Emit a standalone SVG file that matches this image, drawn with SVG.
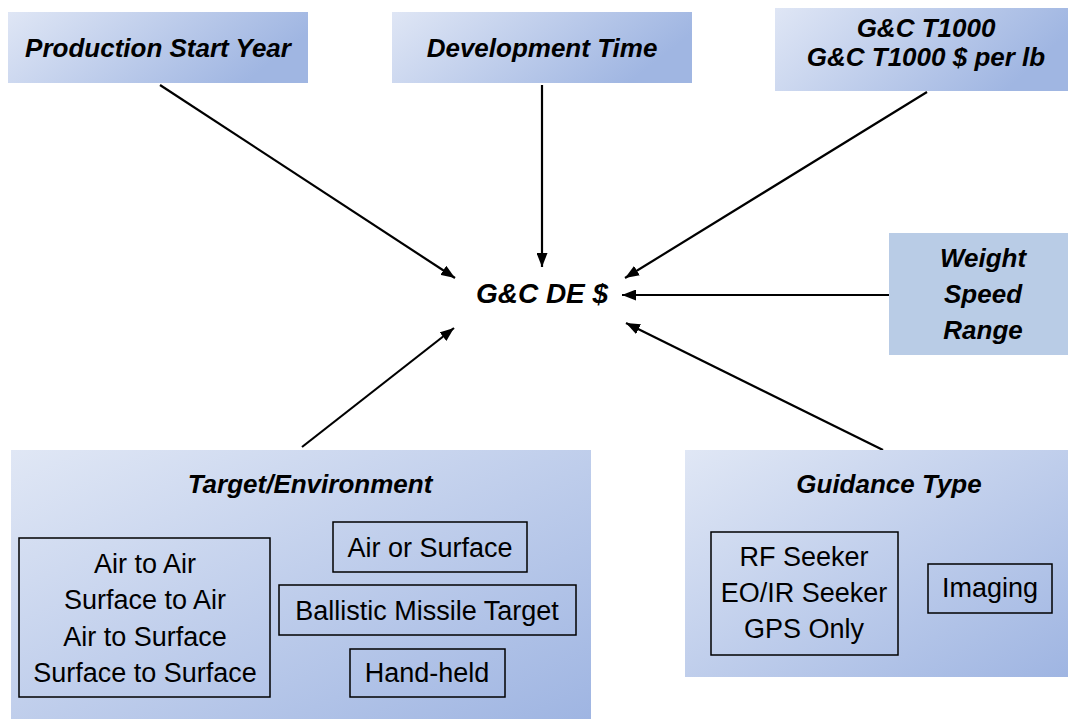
<svg xmlns="http://www.w3.org/2000/svg" width="1068" height="719" viewBox="0 0 1068 719">
<defs>
<linearGradient id="gh" x1="0" y1="0" x2="1" y2="0.3">
<stop offset="0" stop-color="#dfe6f5"/>
<stop offset="1" stop-color="#a0b6e2"/>
</linearGradient>
<linearGradient id="gd" x1="0" y1="0" x2="1" y2="1">
<stop offset="0" stop-color="#e0e7f5"/>
<stop offset="1" stop-color="#9fb5e2"/>
</linearGradient>
<marker id="ah" viewBox="0 0 14 11" refX="14" refY="5.5" markerWidth="14" markerHeight="11" markerUnits="userSpaceOnUse" orient="auto">
<path d="M0,0 L14,5.5 L0,11 z" fill="#000"/>
</marker>
<style>
.t{font-family:"Liberation Sans",Arial,sans-serif;font-weight:bold;font-style:italic;font-size:26px;fill:#000;text-anchor:middle}
.n{font-family:"Liberation Sans",Arial,sans-serif;font-size:27px;fill:#000;text-anchor:middle}
.ib{fill:none;stroke:#000;stroke-width:1.5}
.c{stroke:#000;stroke-width:2.2;fill:none;marker-end:url(#ah)}
</style>
</defs>
<rect width="1068" height="719" fill="#fff"/>
<g id="connectors">
<line class="c" x1="160" y1="85" x2="455" y2="278"/>
<line class="c" x1="542" y1="85" x2="542" y2="267"/>
<line class="c" x1="927" y1="92" x2="625" y2="278"/>
<line class="c" x1="889" y1="295" x2="622" y2="295"/>
<line class="c" x1="302" y1="447" x2="454" y2="328"/>
<line class="c" x1="883" y1="450" x2="626" y2="323"/>
</g>
<g id="production-start-year">
<rect x="8" y="12" width="300" height="71" fill="url(#gh)"/>
<text class="t" x="158" y="57">Production Start Year</text>
</g>
<g id="development-time">
<rect x="392" y="12" width="300" height="71" fill="url(#gh)"/>
<text class="t" x="542" y="57">Development Time</text>
</g>
<g id="gc-t1000">
<rect x="775" y="8" width="293" height="83" fill="url(#gh)"/>
<text class="t" x="926" y="37">G&amp;C T1000</text>
<text class="t" x="926" y="66">G&amp;C T1000 $ per lb</text>
</g>
<g id="weight-speed-range">
<rect x="889" y="233" width="179" height="122" fill="#b9cce6"/>
<text class="t" x="983" y="267">Weight</text>
<text class="t" x="983" y="303">Speed</text>
<text class="t" x="983" y="339">Range</text>
</g>
<g id="gc-de">
<text class="t" x="542" y="303" style="font-size:28px">G&amp;C DE $</text>
</g>
<g id="target-environment">
<rect x="11" y="450" width="580" height="269" fill="url(#gd)"/>
<text class="t" x="310" y="493">Target/Environment</text>
<rect class="ib" x="19" y="538" width="251" height="159"/>
<text class="n" x="145" y="573">Air to Air</text>
<text class="n" x="145" y="609">Surface to Air</text>
<text class="n" x="145" y="646">Air to Surface</text>
<text class="n" x="145" y="682">Surface to Surface</text>
<rect class="ib" x="333" y="522" width="194" height="50"/>
<text class="n" x="430" y="557">Air or Surface</text>
<rect class="ib" x="279" y="585" width="297" height="50"/>
<text class="n" x="427" y="620">Ballistic Missile Target</text>
<rect class="ib" x="350" y="649" width="155" height="48"/>
<text class="n" x="427" y="682">Hand-held</text>
</g>
<g id="guidance-type">
<rect x="685" y="450" width="383" height="227" fill="url(#gd)"/>
<text class="t" x="889" y="493">Guidance Type</text>
<rect class="ib" x="711" y="532" width="187" height="123"/>
<text class="n" x="804" y="566">RF Seeker</text>
<text class="n" x="804" y="602">EO/IR Seeker</text>
<text class="n" x="804" y="638">GPS Only</text>
<rect class="ib" x="928" y="564" width="124" height="49"/>
<text class="n" x="990" y="597">Imaging</text>
</g>
</svg>
